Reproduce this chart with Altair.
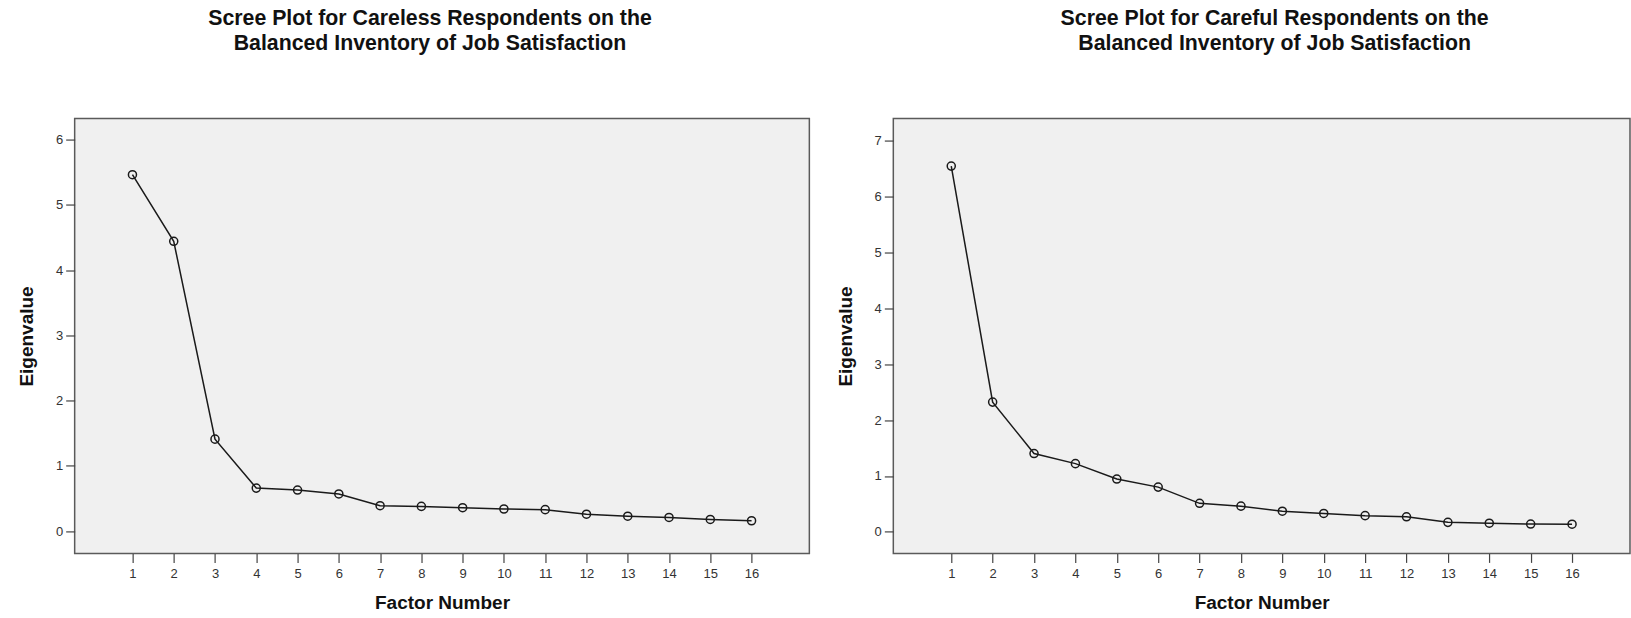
import altair as alt
import pandas as pd

factors = list(range(1, 17))
careless = [5.46, 4.44, 1.41, 0.66, 0.63, 0.57, 0.39, 0.38, 0.36, 0.34, 0.33, 0.26, 0.23, 0.21, 0.18, 0.16]
careful = [6.54, 2.32, 1.40, 1.22, 0.945, 0.80, 0.51, 0.46, 0.37, 0.33, 0.29, 0.27, 0.17, 0.155, 0.14, 0.137]

title_left = ["Scree Plot for Careless Respondents on the", "Balanced Inventory of Job Satisfaction"]
title_right = ["Scree Plot for Careful Respondents on the", "Balanced Inventory of Job Satisfaction"]

FONT = "Liberation Sans"


def panel(values, title_lines, ydomain, yticks, dx, width):
    df = pd.DataFrame({"Factor": factors, "Eigenvalue": values})
    base = alt.Chart(df).encode(
        x=alt.X(
            "Factor:Q",
            scale=alt.Scale(domain=[-0.4, 17.4], nice=False, zero=False),
            axis=alt.Axis(values=factors, title="Factor Number", titlePadding=13, labelPadding=5),
        ),
        y=alt.Y(
            "Eigenvalue:Q",
            scale=alt.Scale(domain=ydomain, nice=False, zero=False),
            axis=alt.Axis(values=yticks, title="Eigenvalue", titlePadding=18.6, labelPadding=3),
        ),
    )
    line = base.mark_line(color="#1a1a1a", strokeWidth=1.5)
    pts = base.mark_point(shape="circle", filled=False, color="#1a1a1a", size=65,
                          strokeWidth=1.5, opacity=1)
    return alt.layer(line, pts).properties(
        width=width,
        height=435,
        title=alt.TitleParams(
            text=title_lines, anchor="middle", fontSize=21.3, font=FONT, fontWeight="bold",
            color="#111111", lineHeight=25, offset=64, dx=dx,
        ),
    )


left = panel(careless, title_left, [-0.34, 6.32], [0, 1, 2, 3, 4, 5, 6], -12, 735)
right = panel(careful, title_right, [-0.385, 7.39], [0, 1, 2, 3, 4, 5, 6, 7], 13, 737)

chart = alt.hconcat(left, right, spacing=25).properties(
    padding={"left": 16.7, "top": 6.5, "right": 0, "bottom": 0},
    background="white",
).configure_view(
    fill="#f0f0f0", stroke="#5a5a5a", strokeWidth=1.5
).configure_axis(
    labelFont=FONT, labelFontSize=13, labelColor="#333333",
    tickColor="#444444", tickSize=9, tickWidth=1.2, domain=False, grid=False,
    titleFont=FONT, titleFontSize=19, titleFontWeight="bold", titleColor="#111111",
)

chart.save("out.html", embed_options={"renderer": "svg", "actions": False})
